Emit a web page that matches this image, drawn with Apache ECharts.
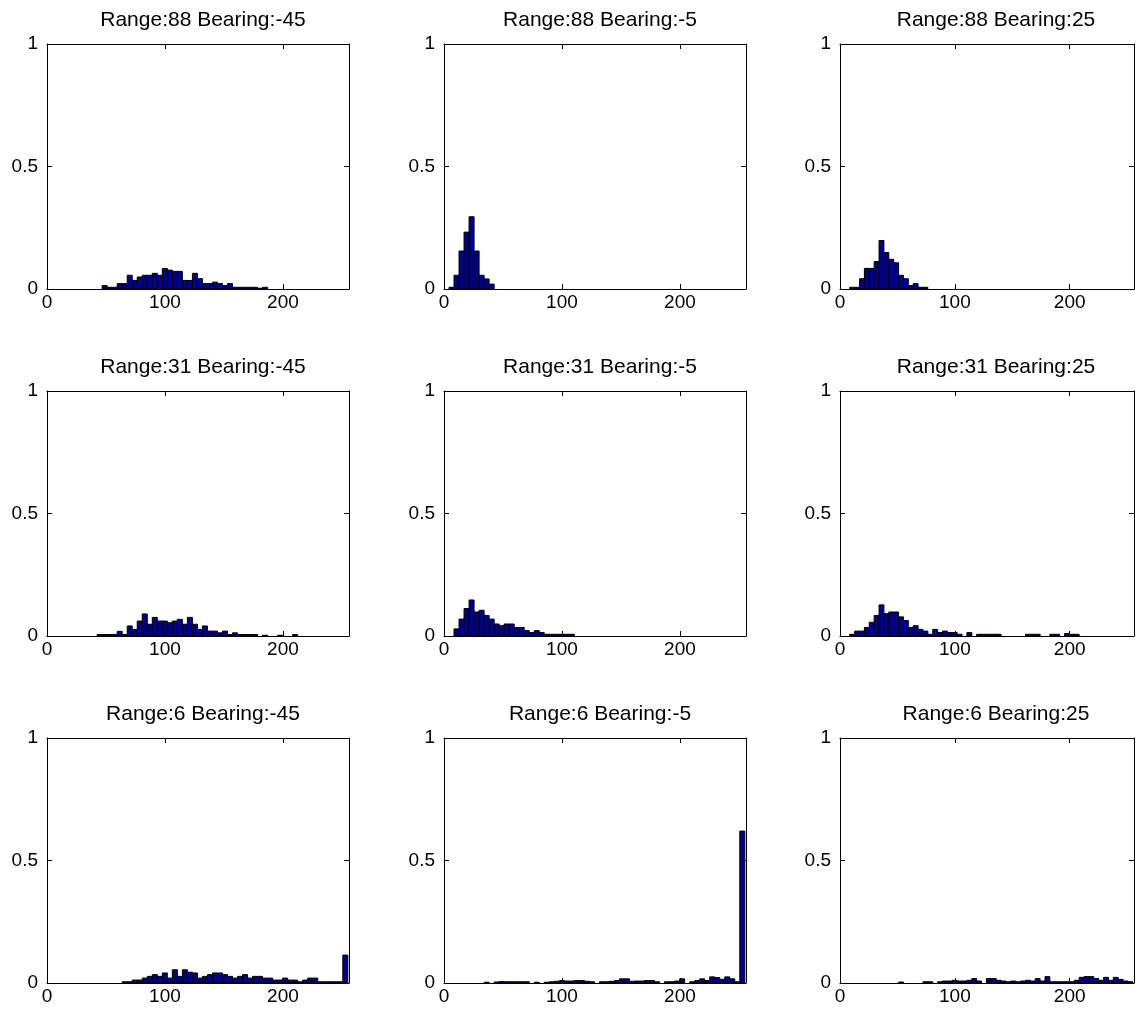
<!DOCTYPE html>
<html><head><meta charset="utf-8">
<script src="https://cdn.jsdelivr.net/npm/echarts@6/dist/echarts.min.js"></script>
<style>html,body{margin:0;padding:0;background:#fff}#c{width:1137px;height:1012px}</style>
</head><body><div id="c"></div><script>
// ---- data ----
const TITLES = [
  'Range:88 Bearing:-45','Range:88 Bearing:-5','Range:88 Bearing:25',
  'Range:31 Bearing:-45','Range:31 Bearing:-5','Range:31 Bearing:25',
  'Range:6 Bearing:-45','Range:6 Bearing:-5','Range:6 Bearing:25'
];
const BIN_WIDTH = 4.25;           // 60 bins over 0..255
const X_TICKS = [0, 100, 200];
const Y_TICKS = [0, 0.5, 1];

const r88b_45 = [
0,0,0,0,0,0,0,0,0,0,
0,0.014,0.007,0.007,0.022,0.022,0.056,0.035,0.049,0.056,
0.056,0.064,0.056,0.084,0.077,0.072,0.072,0.035,0.035,0.064,
0.042,0.022,0.022,0.028,0.022,0.014,0.022,0.007,0.007,0.007,
0.007,0.007,0.003,0.007,0,0,0,0,0,0,
0,0,0,0,0,0,0,0,0,0];
const r88b_5 = [
0,0.007,0.056,0.155,0.232,0.295,0.155,0.056,0.041,0.020,
0,0,0,0,0,0,0,0,0,0,
0,0,0,0,0,0,0,0,0,0,
0,0,0,0,0,0,0,0,0,0,
0,0,0,0,0,0,0,0,0,0,
0,0,0,0,0,0,0,0,0,0];
const r88b25 = [
0,0,0.007,0.007,0.042,0.084,0.084,0.112,0.198,0.149,
0.121,0.107,0.056,0.042,0.014,0.022,0.007,0.007,0,0,
0,0,0,0,0,0,0,0,0,0,
0,0,0,0,0,0,0,0,0,0,
0,0,0,0,0,0,0,0,0,0,
0,0,0,0,0,0,0,0,0,0];
const r31b_45 = [
0,0,0,0,0,0,0,0,0,0,
0.006,0.006,0.006,0.006,0.019,0.006,0.041,0.027,0.061,0.090,
0.048,0.076,0.061,0.061,0.054,0.061,0.068,0.048,0.076,0.048,
0.027,0.041,0.020,0.020,0.013,0.020,0.006,0.013,0.006,0.006,
0.006,0.006,0,0.003,0,0,0.003,0,0,0.006,
0,0,0,0,0,0,0,0,0,0];
const r31b_5 = [
0,0,0.029,0.069,0.112,0.147,0.098,0.105,0.084,0.069,
0.049,0.042,0.049,0.049,0.035,0.035,0.022,0.014,0.022,0.014,
0.007,0.007,0.007,0.007,0.007,0.007,0,0,0,0,
0,0,0,0,0,0,0,0,0,0,
0,0,0,0,0,0,0,0,0,0,
0,0,0,0,0,0,0,0,0,0];
const r31b25 = [
0,0,0.007,0.020,0.020,0.035,0.056,0.084,0.127,0.091,
0.098,0.098,0.078,0.063,0.035,0.042,0.027,0.020,0.007,0.027,
0.014,0.020,0.014,0.014,0.007,0,0.014,0,0.007,0.007,
0.007,0.007,0.007,0,0,0,0,0,0.007,0.007,
0.007,0,0,0.007,0.007,0,0.010,0.007,0.007,0,
0,0,0,0,0,0,0,0,0,0];
const r6b_45 = [
0,0,0,0,0,0,0,0,0,0,
0,0,0,0,0,0.005,0.005,0.012,0.012,0.020,
0.027,0.034,0.027,0.041,0.020,0.054,0.027,0.054,0.044,0.041,
0.020,0.027,0.034,0.041,0.041,0.034,0.027,0.020,0.027,0.034,
0.020,0.027,0.027,0.020,0.020,0.012,0.012,0.020,0.012,0.012,
0.005,0.012,0.020,0.020,0.005,0.005,0.005,0.005,0.005,0.114];
const r6b_5 = [
0,0,0,0,0,0,0,0,0.003,0,
0.004,0.006,0.005,0.005,0.005,0.005,0.005,0,0.003,0,
0.003,0.005,0.007,0.010,0.008,0.008,0.010,0.010,0.007,0.005,
0,0.005,0.005,0.007,0.010,0.017,0.017,0.007,0.008,0.008,
0.010,0.010,0.005,0,0.005,0.005,0.008,0.017,0,0.005,
0.010,0.017,0.010,0.025,0.022,0.015,0.025,0.017,0.005,0.620];
const r6b25 = [
0,0,0,0,0,0,0,0,0,0,
0,0,0.004,0,0,0,0,0.005,0.005,0,
0.005,0.008,0.008,0.011,0.008,0.008,0.011,0.018,0.008,0,
0.018,0.018,0.011,0.008,0.005,0.008,0.005,0.008,0.011,0.008,
0.018,0.008,0.026,0.005,0.005,0.005,0.005,0.005,0.011,0.023,
0.026,0.026,0.018,0.011,0.023,0.011,0.023,0.015,0.008,0.005];

const PANELS = [r88b_45, r88b_5, r88b25, r31b_45, r31b_5, r31b25, r6b_45, r6b_5, r6b25];

// ---- layout ----
const COL_LEFT = [47, 444, 840];
const ROW_TOP = [44, 391, 738];
const W = 302, H = 245;
const FONT = "'Liberation Sans', Arial, sans-serif";
const FS = 19;
const TITLE_FS = 21;

const chart = echarts.init(document.getElementById('c'), null, {renderer: 'canvas'});

function renderItem(params, api) {
  const x = api.value(0), v = api.value(1);
  const p0 = api.coord([x - BIN_WIDTH / 2, 0]);
  const p1 = api.coord([x + BIN_WIDTH / 2, v]);
  const cs = params.coordSys;
  const rect = echarts.graphic.clipRectByRect(
    {x: p0[0], y: p1[1], width: p1[0] - p0[0], height: p0[1] - p1[1]},
    {x: cs.x, y: cs.y - 1, width: cs.width, height: cs.height + 2});
  if (!rect) return null;
  return {type: 'rect', shape: rect, style: {fill: '#00008F', stroke: '#000', lineWidth: 1}};
}

const grid = [], xAxis = [], yAxis = [], series = [], title = [];
PANELS.forEach((vals, i) => {
  const r = Math.floor(i / 3), c = i % 3;
  grid.push({left: COL_LEFT[c], top: ROW_TOP[r], width: W, height: H, show: false});
  title.push({
    text: TITLES[i], left: COL_LEFT[c] + W / 2, top: ROW_TOP[r] - 39, textAlign: 'center',
    textStyle: {fontFamily: FONT, fontSize: TITLE_FS, fontWeight: 'normal', color: '#000'}
  });
  const axLine = {show: true, onZero: false, lineStyle: {color: '#000', width: 1}};
  const tick = {show: true, inside: true, length: 5, lineStyle: {color: '#000'}};
  xAxis.push({
    type: 'value', gridIndex: i, position: 'bottom', min: 0, max: 256, interval: 100,
    axisLine: axLine, axisTick: tick, splitLine: {show: false},
    axisLabel: {color: '#000', fontFamily: FONT, fontSize: FS, margin: 4,
      formatter: v => X_TICKS.includes(v) ? String(v) : ''}
  });
  xAxis.push({
    type: 'value', gridIndex: i, position: 'top', min: 0, max: 256, interval: 100,
    axisLine: axLine, axisTick: tick, splitLine: {show: false}, axisLabel: {show: false}
  });
  yAxis.push({
    type: 'value', gridIndex: i, position: 'left', min: 0, max: 1, interval: 0.5,
    axisLine: axLine, axisTick: tick, splitLine: {show: false},
    axisLabel: {color: '#000', fontFamily: FONT, fontSize: FS, margin: 9,
      formatter: v => Y_TICKS.includes(v) ? String(v) : ''}
  });
  yAxis.push({
    type: 'value', gridIndex: i, position: 'right', min: 0, max: 1, interval: 0.5,
    axisLine: axLine, axisTick: tick, splitLine: {show: false}, axisLabel: {show: false}
  });
  series.push({
    type: 'custom', xAxisIndex: 2 * i, yAxisIndex: 2 * i, renderItem: renderItem,
    data: vals.map((v, k) => [(k + 0.5) * BIN_WIDTH, v]).filter(d => d[1] > 0),
    silent: true, animation: false
  });
});

chart.setOption({animation: false, backgroundColor: '#fff', title, grid, xAxis, yAxis, series});
</script></body></html>
